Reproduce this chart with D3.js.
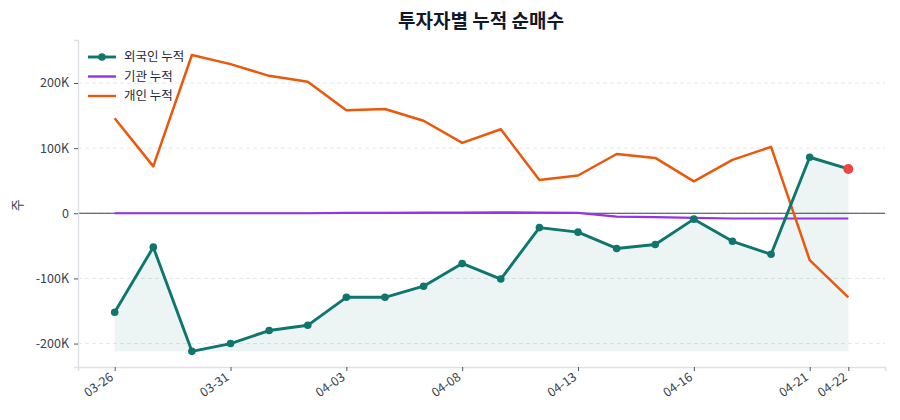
<!DOCTYPE html>
<html>
<head>
<meta charset="utf-8">
<script src="https://cdn.jsdelivr.net/npm/d3@7"></script>
<style>
    body { margin: 0; background: #fff; }
    svg text { font-family: "Noto Sans CJK KR", "Noto Sans", sans-serif; }
</style>
</head>
<body>
<div id="chart"></div>
<script>
// data
const dates = ['03-26', '03-27', '03-30', '03-31', '04-01', '04-02', '04-03', '04-06', '04-07', '04-08',
    '04-09', '04-10', '04-13', '04-14', '04-15', '04-16', '04-17', '04-20', '04-21', '04-22'];
const tickDates = ['03-26', '03-31', '04-03', '04-08', '04-13', '04-16', '04-21', '04-22'];
const foreign = [-152000, -52000, -212000, -200000, -180000, -172000, -129000, -129000, -112000, -77000,
    -101000, -22000, -29000, -54000, -48000, -9000, -43000, -63000, 86000, 68000];
const institution = [0, 0, 0, 0, 0, 0, 500, 500, 1000, 1000,
    1500, 1000, 500, -5000, -6000, -7000, -8000, -8000, -8000, -8000];
const individual = [146000, 72000, 243000, 229000, 211000, 202000, 158000, 160000, 142000, 108000,
    129000, 51000, 58000, 91000, 85000, 49000, 82000, 102000, -72000, -129000];
const yTicks = [-200000, -100000, 0, 100000, 200000];
const seriesNames = ['외국인 누적', '기관 누적', '개인 누적'];

const width = 900, height = 420;
const margin = { top: 40, right: 15, bottom: 53, left: 78 };
const colors = { foreign: '#0f766e', institution: '#9333ea', individual: '#ea580c' };

const svg = d3.select('#chart').append('svg')
    .attr('width', width)
    .attr('height', height);

const x = d3.scaleLinear()
    .domain([-0.95, dates.length - 1 + 0.95])
    .range([margin.left, width - margin.right]);

const y = d3.scaleLinear()
    .domain([-236000, 266000])
    .range([height - margin.bottom, margin.top]);

//grid
svg.append('g')
    .selectAll('line')
    .data(yTicks)
    .join('line')
    .attr('x1', margin.left).attr('x2', width - margin.right)
    .attr('y1', d => y(d)).attr('y2', d => y(d))
    .attr('stroke', '#e5e7eb')
    .attr('stroke-dasharray', '4,3')
    .attr('stroke-width', 1);

// area under foreign line
const fMin = d3.min(foreign);
svg.append('path')
    .datum(foreign)
    .attr('fill', colors.foreign)
    .attr('fill-opacity', 0.08)
    .attr('d', d3.area()
        .x((d, i) => x(i))
        .y0(y(fMin))
        .y1(d => y(d)));

// zero line
svg.append('line')
    .attr('x1', margin.left).attr('x2', width - margin.right)
    .attr('y1', y(0)).attr('y2', y(0))
    .attr('stroke', '#374151')
    .attr('stroke-width', 1.2);

const line = d3.line().x((d, i) => x(i)).y(d => y(d));

svg.append('path').datum(institution)
    .attr('fill', 'none').attr('stroke', colors.institution)
    .attr('stroke-width', 2.2).attr('d', line);

svg.append('path').datum(individual)
    .attr('fill', 'none').attr('stroke', colors.individual)
    .attr('stroke-width', 2.5).attr('stroke-linejoin', 'round').attr('d', line);

svg.append('path').datum(foreign)
    .attr('fill', 'none').attr('stroke', colors.foreign)
    .attr('stroke-width', 2.9).attr('stroke-linejoin', 'round').attr('d', line);

svg.append('g')
    .selectAll('circle')
    .data(foreign.slice(0, -1))
    .join('circle')
    .attr('cx', (d, i) => x(i))
    .attr('cy', d => y(d))
    .attr('r', 3.8)
    .attr('fill', colors.foreign);

const last = foreign.length - 1;
svg.append('circle')
    .attr('cx', x(last))
    .attr('cy', y(foreign[last]))
    .attr('r', 5)
    .attr('fill', '#ef4444');

// axes
const yAxis = svg.append('g')
    .attr('transform', `translate(${margin.left},0)`)
    .call(d3.axisLeft(y).tickValues(yTicks).tickSize(4).tickPadding(5)
        .tickFormat(d => d === 0 ? '0' : (d / 1000) + 'K'));

const xAxis = svg.append('g')
    .attr('transform', `translate(0,${height - margin.bottom})`)
    .call(d3.axisBottom(x)
        .tickValues(tickDates.map(t => dates.indexOf(t)))
        .tickSize(4)
        .tickFormat(i => dates[i]));

[xAxis, yAxis].forEach(ax => {
    ax.select('.domain').attr('stroke', '#dde1e6').attr('stroke-width', 1.5);
    ax.selectAll('.tick line').attr('stroke', '#4b5563');
    ax.selectAll('.tick text').attr('fill', '#374151').style('font-size', '12.5px');
});

xAxis.selectAll('.tick text')
    .attr('text-anchor', 'end')
    .attr('dy', null)
    .attr('y', 0)
    .attr('transform', 'translate(-1,12) rotate(-35)');

// y label
svg.append('text')
    .attr('transform', `translate(22,${y(0) - 8}) rotate(-90)`)
    .attr('text-anchor', 'middle')
    .attr('fill', '#374151')
    .style('font-size', '13px')
    .text('주');

// title
svg.append('text')
    .attr('x', 481).attr('y', 28)
    .attr('text-anchor', 'middle')
    .attr('fill', '#111827')
    .style('font-size', '19px')
    .style('font-weight', 'bold')
    .text('투자자별 누적 순매수');

// legend
const legend = svg.append('g').attr('transform', 'translate(88,57)');
const legendColors = [colors.foreign, colors.institution, colors.individual];
seriesNames.forEach((name, i) => {
    const g = legend.append('g').attr('transform', `translate(0,${i * 19.5})`);
    g.append('line').attr('x1', 0).attr('x2', 28)
        .attr('stroke', legendColors[i]).attr('stroke-width', i === 0 ? 2.9 : 2.4);
    if (i === 0) {
        g.append('circle').attr('cx', 14).attr('r', 3.8).attr('fill', legendColors[i]);
    }
    g.append('text').attr('x', 36).attr('y', 0).attr('dy', '0.35em')
        .attr('fill', '#1f2937')
        .style('font-size', '12.5px')
        .text(name);
});
</script>
</body>
</html>
